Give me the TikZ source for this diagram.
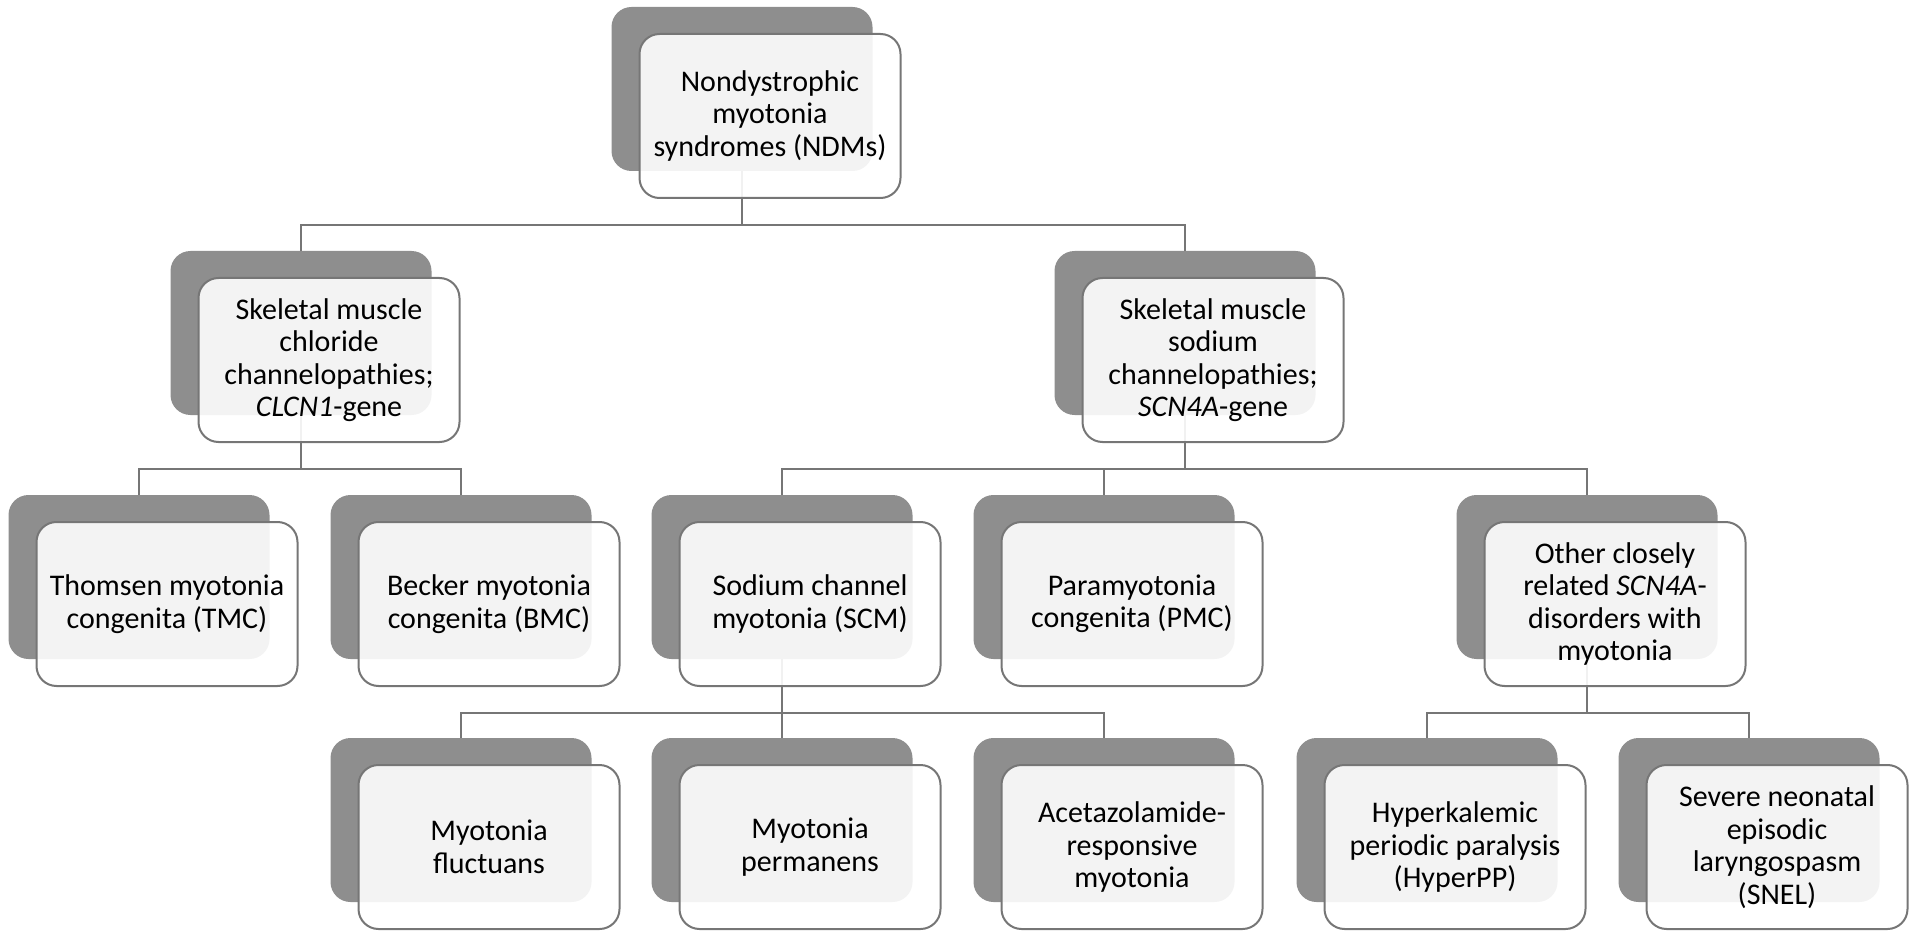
\documentclass[tikz,border=0pt]{standalone}
\usepackage{fontspec}
\setmainfont{Carlito}
\usepackage{xcolor}
\usetikzlibrary{positioning, calc}
\definecolor{backgray}{HTML}{8E8E8E}
\definecolor{framegray}{HTML}{767676}
\tikzset{
    back/.style={
        rectangle,
        rounded corners=20pt,
        fill=backgray,
        minimum width=261pt,
        minimum height=164pt,
    },
    front/.style={
        rectangle,
        rounded corners=20pt,
        draw=framegray,
        line width=2pt,
        fill=white,
        fill opacity=0.9,
        text opacity=1,
        align=center,
        minimum width=261pt,
        minimum height=164pt,
        font=\fontsize{30}{32.5}\selectfont,
        xshift=28pt,
        yshift=-27pt,
    },
    link/.style={
        draw=framegray,
        line width=2pt,
    },
}

\begin{document}
\begin{tikzpicture}[x=1pt, y=-1pt]
    \useasboundingbox (0,0) rectangle (1920,941);

    % dark cards
    \node [back] (ndm) at (742,89) {};
    \node [back] (chl) at (301,333) {};
    \node [back] (sod) at (1185,333) {};
    \node [back] (tmc) at (139,577) {};
    \node [back] (bmc) at (461,577) {};
    \node [back] (scm) at (782,577) {};
    \node [back] (pmc) at (1104,577) {};
    \node [back] (oth) at (1587,577) {};
    \node [back] (flu) at (461,820) {};
    \node [back] (per) at (782,820) {};
    \node [back] (ace) at (1104,820) {};
    \node [back] (hpp) at (1427,820) {};
    \node [back] (snel) at (1749,820) {};

    % connectors
    \foreach \p in {ndm,chl,sod,scm,oth}
        \coordinate (\p-fork) at ($(\p.south)+(0,54)$);
    \draw[link] (ndm.south) -- (ndm-fork);
    \foreach \c in {chl,sod} \draw[link] (ndm-fork) -| (\c.north);
    \draw[link] (chl.south) -- (chl-fork);
    \foreach \c in {tmc,bmc} \draw[link] (chl-fork) -| (\c.north);
    \draw[link] (sod.south) -- (sod-fork);
    \foreach \c in {scm,pmc,oth} \draw[link] (sod-fork) -| (\c.north);
    \draw[link] (scm.south) -- (scm-fork);
    \foreach \c in {flu,per,ace} \draw[link] (scm-fork) -| (\c.north);
    \draw[link] (oth.south) -- (oth-fork);
    \foreach \c in {hpp,snel} \draw[link] (oth-fork) -| (\c.north);

    % white cards
    \node [front] (ndm-t) at (ndm) {Nondystrophic\\myotonia\\syndromes (NDMs)};
    \node [front] (chl-t) at (chl) {Skeletal muscle\\chloride\\channelopathies;\\\textit{CLCN1}-gene};
    \node [front] (sod-t) at (sod) {Skeletal muscle\\sodium\\channelopathies;\\\textit{SCN4A}-gene};
    \node [front] (tmc-t) at (tmc) {Thomsen myotonia\\congenita (TMC)};
    \node [front] (bmc-t) at (bmc) {Becker myotonia\\congenita (BMC)};
    \node [front] (scm-t) at (scm) {Sodium channel\\myotonia (SCM)};
    \node [front] (pmc-t) at (pmc) {Paramyotonia\\congenita (PMC)};
    \node [front] (oth-t) at (oth) {Other closely\\related \textit{SCN4A}-\\disorders with\\myotonia};
    \node [front] (flu-t) at (flu) {Myotonia\\fluctuans};
    \node [front] (per-t) at (per) {Myotonia\\permanens};
    \node [front] (ace-t) at (ace) {Acetazolamide-\\responsive\\myotonia};
    \node [front] (hpp-t) at (hpp) {Hyperkalemic\\periodic paralysis\\(HyperPP)};
    \node [front] (snel-t) at (snel) {Severe neonatal\\episodic\\laryngospasm\\(SNEL)};
\end{tikzpicture}
\end{document}
